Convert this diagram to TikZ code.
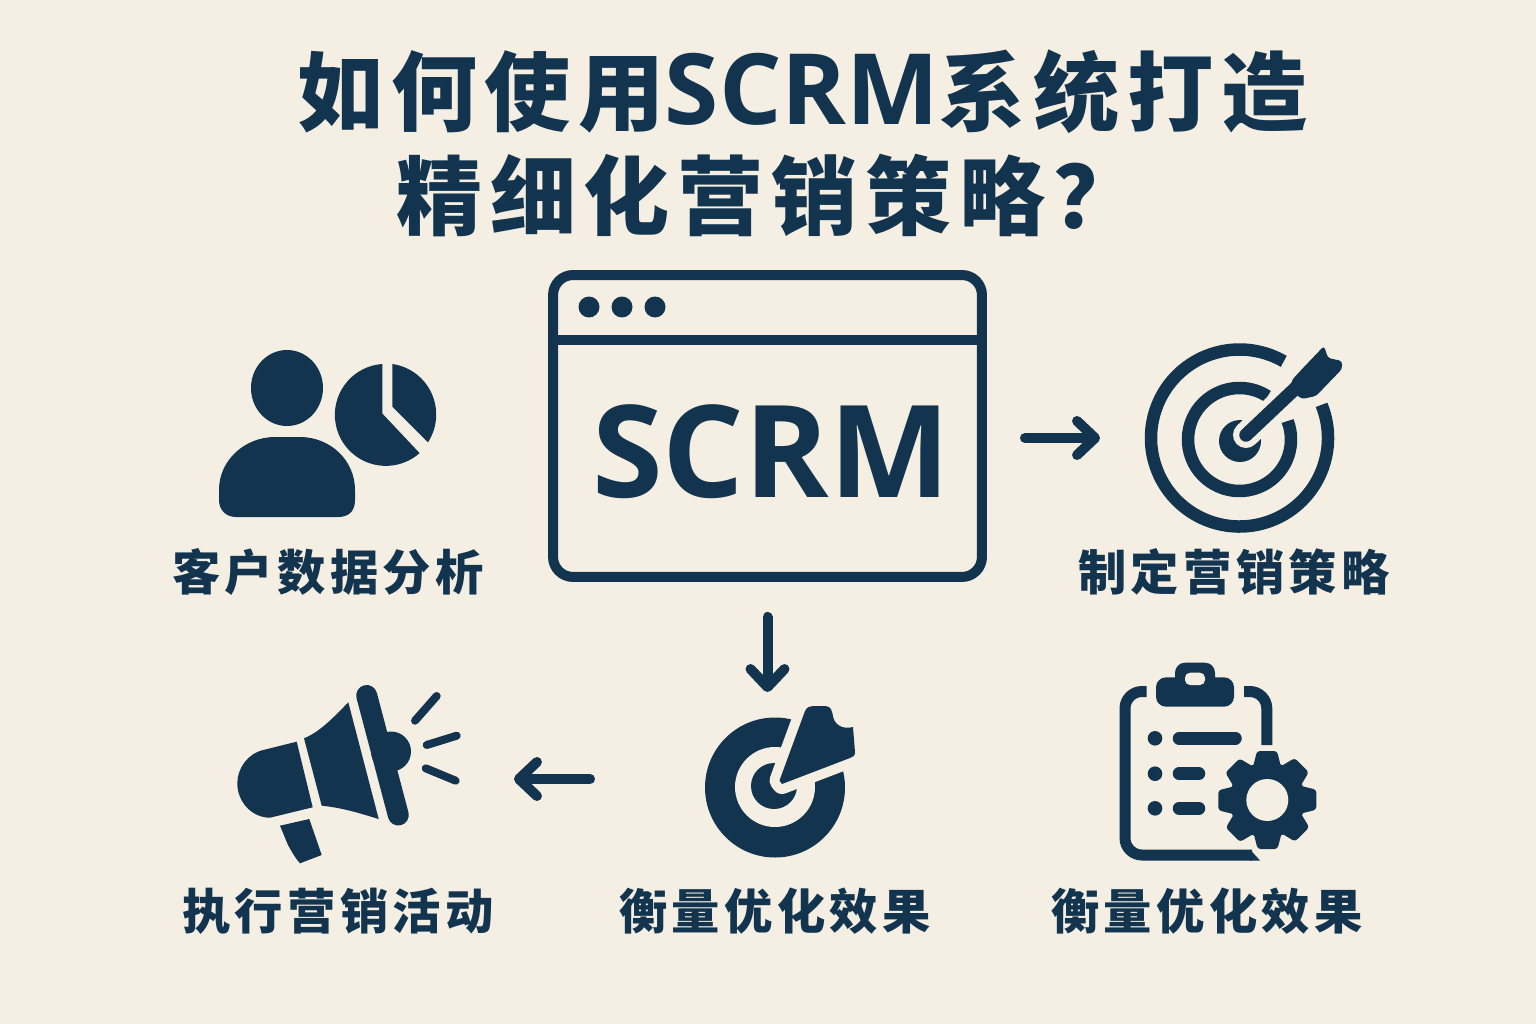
\documentclass[tikz,border=0pt]{standalone}
\usepackage{fontspec}
\usetikzlibrary{arrows.meta}
\newfontfamily\cjk[LetterSpace=9]{Noto Sans CJK SC}
\newfontfamily\latn{Open Sans}
\definecolor{paper}{RGB}{245,239,227}
\definecolor{navy}{RGB}{18,52,78}
\tikzset{
	ink/.style={fill=navy,draw=none},
	blank/.style={fill=paper,draw=none},
	halo/.style={draw=paper,line join=round,line cap=round},
	ring/.style={draw=navy,line width=0.25cm},
	titletext/.style={text=navy,anchor=west,inner sep=0,font=\cjk\bfseries\fontsize{49}{52}\selectfont},
	labeltext/.style={text=navy,inner sep=0,font=\cjk\bfseries\fontsize{27.5}{30}\selectfont},
	flow/.style={draw=navy,line width=0.2cm,line cap=round,-{Straight Barb[length=0.36cm,width=0.68cm,round]}},
	ghost/.style={draw=none,inner sep=0,outer sep=0}
}
\begin{document}
\begin{tikzpicture}[x=0.02cm,y=0.02cm,yscale=-1]
	\useasboundingbox (0,0) rectangle (1536,1024);
	\fill[paper] (0,0) rectangle (1536,1024);
	\node[titletext] (titleone) at (297,92) {如何使用{\latn\fontsize{56}{58}\selectfont SCRM}系统打造};
	\node[titletext] (titletwo) at (396,195) {精细化营销策略？};
	\node[draw=navy,line width=0.2cm,rounded corners=0.4cm,minimum width=8.58cm,minimum height=6.04cm,inner sep=0,outer sep=0] (scrm) at (767.5,426) {};
	\draw[navy,line width=0.2cm] (scrm.west |- 0,340) -- (scrm.east |- 0,340);
	\foreach \x in {589,622,655} {
		\fill[ink] (\x,307) circle (10.5);
	}
	\node[text=navy,inner sep=0,font=\latn\bfseries\fontsize{73}{75}\selectfont] (scrmword) at (771,452) {SCRM};
	\node[ghost,minimum width=3.8cm,minimum height=3.8cm] (goal) at (1240,438) {};
	\node[ghost,minimum width=2.8cm,minimum height=3.16cm] (review) at (775,779) {};
	\node[ghost,minimum width=4.48cm,minimum height=3.6cm] (horn) at (348,779) {};
	\draw[flow,shorten <=0.86cm,shorten >=0.9cm] (scrm.east |- goal) -- (goal.west);
	\draw[flow,shorten <=0.8cm,shorten >=0.16cm] (scrm.south) -- (review.north -| scrm.south);
	\draw[flow,shorten <=2.3cm,shorten >=1.08cm] (review.west) -- (horn.east);
	% person with pie
	\fill[ink] (287,388) ellipse (36 and 38);
	\fill[ink] (219,490) .. controls (219,460) and (245,437) .. (275,437) -- (300,437) .. controls (330,437) and (355,460) .. (355,490) -- (355,500) .. controls (355,512) and (348,517) .. (338,517) -- (236,517) .. controls (226,517) and (219,510) .. (219,500) -- cycle;
	\fill[ink] (382.3,413.5) -- (382.3,364) arc[start angle=266,end angle=48.6,radius=51] -- cycle;
	\fill[ink] (392.3,406.7) -- (392.3,364) arc[start angle=-82,end angle=33,radius=51] -- cycle;
	% target with dart
	\draw[ring] (1239.5,438) ++(-22:88.5) arc[start angle=-22,end angle=300,radius=88.5];
	\draw[ring] (1239.5,439.5) ++(-21:51.5) arc[start angle=-21,end angle=303,radius=51.5];
	\fill[ink] (1240,441) circle (21);
	\draw[halo,line width=0.52cm] (1246,435) -- (1300,384);
	\draw[navy,line width=0.27cm,line cap=round] (1246,435) -- (1300,384);
	\fill[ink,rounded corners=0.06cm] (1290,390) -- (1292,380) -- (1303,368) -- (1324,346) -- (1328,358) -- (1342,361) -- (1342,369) -- (1316,396) -- (1302,399) -- cycle;
	% second target
	\fill[ink] (775,787.5) circle (70);
	\fill[blank] (775,787) circle (40);
	\fill[ink] (774,786) circle (23);
	\path[fill=navy,halo,line width=0.4cm] (779.5,780.5) -- (805,711) -- (812,706) -- (827,706) -- (832,712) -- (834,722) -- (840,727) -- (853,727) -- (855,752) -- (850,758) -- (782,784) -- cycle;
	\fill[ink] (779.5,780.5) -- (805,711) .. controls (807,707) and (810,706) .. (813,706) -- (825,706) .. controls (831,706) and (832,711) .. (833,716) .. controls (834,724) and (842,730) .. (853,727) -- (855,752) .. controls (855,756) and (853,757) .. (850,758) -- (782,784) -- cycle;
	% megaphone
	\fill[ink] (296.7,741.7) -- (263.3,750) .. controls (248,753.3) and (237.3,768.3) .. (237.3,783.3) .. controls (237.3,801.7) and (251.7,817.7) .. (270,817.7) -- (312.7,807.3) -- cycle;
	\fill[ink] (304,738.3) .. controls (320,732) and (335,716) .. (348.3,702.3) -- (378.7,819) .. controls (365,815) and (345,808) .. (321.7,805.7) -- cycle;
	\draw[navy,line width=0.42cm,line cap=round] (366.7,695.5) -- (398.3,815);
	\fill[ink] (391,751.5) circle (20);
	\fill[ink] (280,825.7) -- (309.3,819) -- (321.7,855) -- (300,863.3) .. controls (295,858) and (292,852) .. (288,845) -- cycle;
	\draw[navy,line width=0.16cm,line cap=round] (415,720.7) -- (436.7,696);
	\draw[navy,line width=0.16cm,line cap=round] (426.7,745) -- (456.7,735.7);
	\draw[navy,line width=0.16cm,line cap=round] (425.7,768.3) -- (455.7,780.7);
	% clipboard
	\draw[navy,line width=0.22cm,rounded corners=0.34cm] (1146.7,691.5) -- (1125,691.5) -- (1125,855) -- (1252,855);
	\fill[ink] (1250,849.5) -- (1250,860.5) -- (1260,860.5) -- cycle;
	\draw[navy,line width=0.22cm,rounded corners=0.34cm] (1244,691.5) -- (1266.8,691.5) -- (1266.8,745);
	\fill[ink,rounded corners=0.2cm] (1156,677.3) rectangle (1234,706.7);
	\fill[ink,rounded corners=0.2cm] (1175,662.7) rectangle (1215,690);
	\fill[blank,rounded corners=0.1cm] (1185,672.7) rectangle (1205,685);
	\foreach \y/\e in {738.3/1235.5,773.7/1199,808.3/1199} {
		\fill[ink] (1155,\y) circle (7.3);
		\draw[navy,line width=0.25cm,line cap=round] (1179,\y) -- (\e,\y);
	}
	\foreach \a in {0,45,...,315} {
		\fill[ink,rotate around={\a:(1267.3,800)},rounded corners=0.06cm] (1257,751) -- (1277,751) -- (1283,775) -- (1251,775) -- cycle;
	}
	\fill[ink] (1267.3,800) circle (38);
	\fill[blank] (1267.3,800) circle (21);
	% labels
	\node[labeltext] (lcustomer) at (328,572) {客户数据分析};
	\node[labeltext] (lplan) at (1234,572) {制定营销策略};
	\node[labeltext] (lrun) at (338,911) {执行营销活动};
	\node[labeltext] (lmeasure) at (775,911) {衡量优化效果};
	\node[labeltext] (lreview) at (1207,911) {衡量优化效果};
\end{tikzpicture}
\end{document}
